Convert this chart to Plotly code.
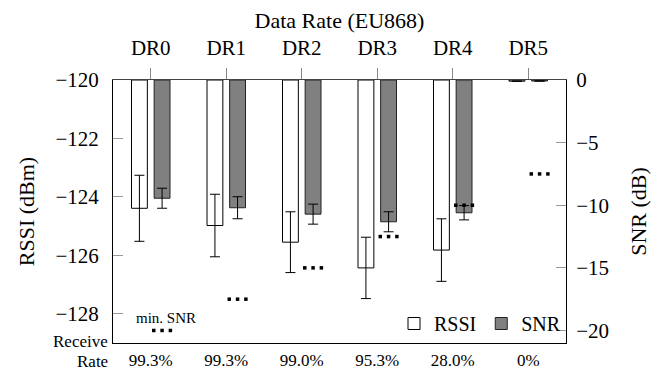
import plotly.graph_objects as go

dr_labels = ["DR0", "DR1", "DR2", "DR3", "DR4", "DR5"]
receive_rate = ["99.3%", "99.3%", "99.0%", "95.3%", "28.0%", "0%"]
rssi_mean = [-124.39, -124.98, -125.55, -126.43, -125.82, -120.04]
rssi_err = [1.13, 1.07, 1.04, 1.05, 1.07, 0]
snr_mean = [-9.44, -10.2, -10.71, -11.32, -10.6, -0.08]
snr_err = [0.8, 0.88, 0.8, 0.8, 0.57, 0]
min_snr = [-20, -17.5, -15, -12.5, -10, -7.5]

FONT = "Times New Roman"
xs = list(range(len(dr_labels)))
rssi_base = -120
snr_base = 0

fig = go.Figure()
fig.add_trace(go.Bar(
    x=xs, y=[v - rssi_base for v in rssi_mean], base=rssi_base,
    offset=-0.255, width=0.21, name="RSSI",
    marker=dict(color="white", line=dict(color="black", width=1)),
    error_y=dict(type="data", array=[e if e > 0 else None for e in rssi_err],
                 color="black", thickness=1, width=5),
    xaxis="x", yaxis="y"))
fig.add_trace(go.Bar(
    x=xs, y=[v - snr_base for v in snr_mean], base=snr_base,
    offset=0.045, width=0.21, name="SNR",
    marker=dict(color="#808080", line=dict(color="#222", width=1)),
    error_y=dict(type="data", array=[e if e > 0 else None for e in snr_err],
                 color="black", thickness=1, width=5),
    xaxis="x", yaxis="y2"))

# min SNR marks drawn as three small dots
dx = []
dy = []
for i, m in enumerate(min_snr):
    for d in (-0.11, 0, 0.11):
        dx.append(i + 0.15 + d)
        dy.append(m)
fig.add_trace(go.Scatter(
    x=dx, y=dy, mode="markers", showlegend=False,
    marker=dict(symbol="square", size=3.5, color="black"),
    xaxis="x", yaxis="y2"))

fig.add_trace(go.Scatter(x=[None], y=[None], xaxis="x2", yaxis="y",
                         showlegend=False, hoverinfo="skip"))

fig.add_annotation(x=0.2, y=min_snr[0], xref="x", yref="y2", yshift=12,
                   text="min. SNR", showarrow=False,
                   font=dict(family=FONT, size=15, color="black"))
fig.add_annotation(x=0, y=0, xref="paper", yref="paper",
                   xanchor="right", yanchor="middle", align="right",
                   xshift=-3, yshift=2,
                   text="Receive", showarrow=False,
                   font=dict(family=FONT, size=17, color="black"))
fig.add_annotation(x=0, y=0, xref="paper", yref="paper",
                   xanchor="right", yanchor="middle", align="right",
                   xshift=-3, yshift=-18,
                   text="Rate", showarrow=False,
                   font=dict(family=FONT, size=17, color="black"))

fig.update_layout(
    width=652, height=362,
    margin=dict(l=105, r=94, t=72, b=27),
    paper_bgcolor="white", plot_bgcolor="white",
    font=dict(family=FONT, size=20, color="black"),
    barmode="overlay",
    xaxis=dict(range=[-0.5, 5.5], tickvals=xs, ticktext=receive_rate,
               ticks="", showline=True, linecolor="black", linewidth=1,
               showgrid=False, zeroline=False, automargin=False,
               ticklabelstandoff=2, tickfont=dict(family=FONT, size=17)),
    xaxis2=dict(range=[-0.5, 5.5], tickvals=xs, ticktext=dr_labels,
                overlaying="x", side="top", ticks="outside", ticklen=11,
                tickcolor="#888", showline=True, linecolor="#444", linewidth=1,
                showgrid=False, zeroline=False, automargin=False,
                ticklabelstandoff=5,
                tickfont=dict(family=FONT, size=21),
                title=dict(text="Data Rate (EU868)", standoff=4,
                           font=dict(family=FONT, size=22))),
    yaxis=dict(range=[-129, -120], tickvals=[-128, -126, -124, -122, -120],
               ticks="inside", ticklen=10, tickcolor="#999",
               showline=True, linecolor="black", linewidth=1,
               showgrid=False, zeroline=False, automargin=False,
               ticklabelstandoff=9,
               tickfont=dict(family=FONT, size=21),
               title=dict(text="RSSI (dBm)", standoff=14,
                          font=dict(family=FONT, size=22))),
    yaxis2=dict(range=[-21, 0], tickvals=[-20, -15, -10, -5, 0],
                overlaying="y", side="right", ticks="inside", ticklen=10,
                tickcolor="#999", showline=True, linecolor="black", linewidth=1,
                showgrid=False, zeroline=False, automargin=False,
                ticklabelstandoff=5,
                tickfont=dict(family=FONT, size=21),
                title=dict(text="SNR (dB)", standoff=22,
                           font=dict(family=FONT, size=22))),
    legend=dict(orientation="h", x=1, y=0, xanchor="right", yanchor="bottom",
                bgcolor="rgba(0,0,0,0)", font=dict(family=FONT, size=20),
                tracegroupgap=0),
    showlegend=True,
)

fig.write_html("out.html")
